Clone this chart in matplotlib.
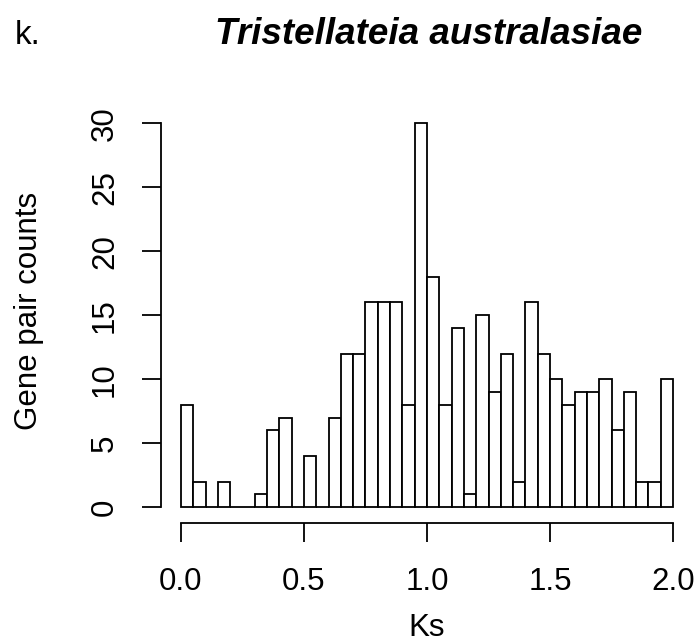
import numpy as np
import matplotlib
matplotlib.use("Agg")
import matplotlib.pyplot as plt

plt.rcParams['font.family'] = ['Liberation Sans', 'DejaVu Sans']

# histogram of Ks values, bin width 0.05 from 0 to 2
bin_edges = np.linspace(0, 2, 41)
counts = [8, 2, 0, 2, 0, 0, 1, 6, 7, 0,
          4, 0, 7, 12, 12, 16, 16, 16, 8, 30,
          18, 8, 14, 1, 15, 9, 12, 2, 16, 12,
          10, 8, 9, 9, 10, 6, 9, 2, 2, 10]
xticks = [0.0, 0.5, 1.0, 1.5, 2.0]
xtick_labels = ["0.0", "0.5", "1.0", "1.5", "2.0"]
yticks = [0, 5, 10, 15, 20, 25, 30]

W, H = 695, 643
fig = plt.figure(figsize=(W / 100, H / 100), dpi=100)
ax = fig.add_axes([161.3 / W, 1 - 522.5 / H, (692.7 - 161.3) / W, (522.5 - 108) / H])

ax.bar(bin_edges[:-1], counts, width=np.diff(bin_edges), align='edge',
       color='white', edgecolor='black', linewidth=1.3)

ax.set_xlim(-0.08, 2.08)
ax.set_ylim(-1.2, 31.2)

for s in ['top', 'right']:
    ax.spines[s].set_visible(False)
ax.spines['left'].set_bounds(0, 30)
ax.spines['bottom'].set_bounds(0, 2)
for s in ['left', 'bottom']:
    ax.spines[s].set_linewidth(1.3)

ax.set_xticks(xticks)
ax.set_xticklabels(xtick_labels)
ax.set_yticks(yticks)
ax.set_yticklabels([str(v) for v in yticks], rotation=90, va='center')
ax.tick_params(axis='both', length=13.7, width=1.3, labelsize=22.5)
ax.tick_params(axis='x', pad=18)
ax.tick_params(axis='y', pad=16)

fig.text(427 / W, 1 - 636 / H, "Ks", ha='center', va='baseline', fontsize=22.5)
fig.text(28.5 / W, 1 - 311 / H, "Gene pair counts", ha='center', va='center',
         rotation=90, fontsize=22.5)
fig.text(429 / W, 1 - 34 / H, "Tristellateia australasiae", ha='center', va='center',
         fontsize=26.5, fontweight='bold', fontstyle='italic')
fig.text(28 / W, 1 - 35 / H, "k.", ha='center', va='center', fontsize=24,
         family=['Liberation Sans Narrow', 'Liberation Sans'])

fig.savefig("out.png", dpi=100)
